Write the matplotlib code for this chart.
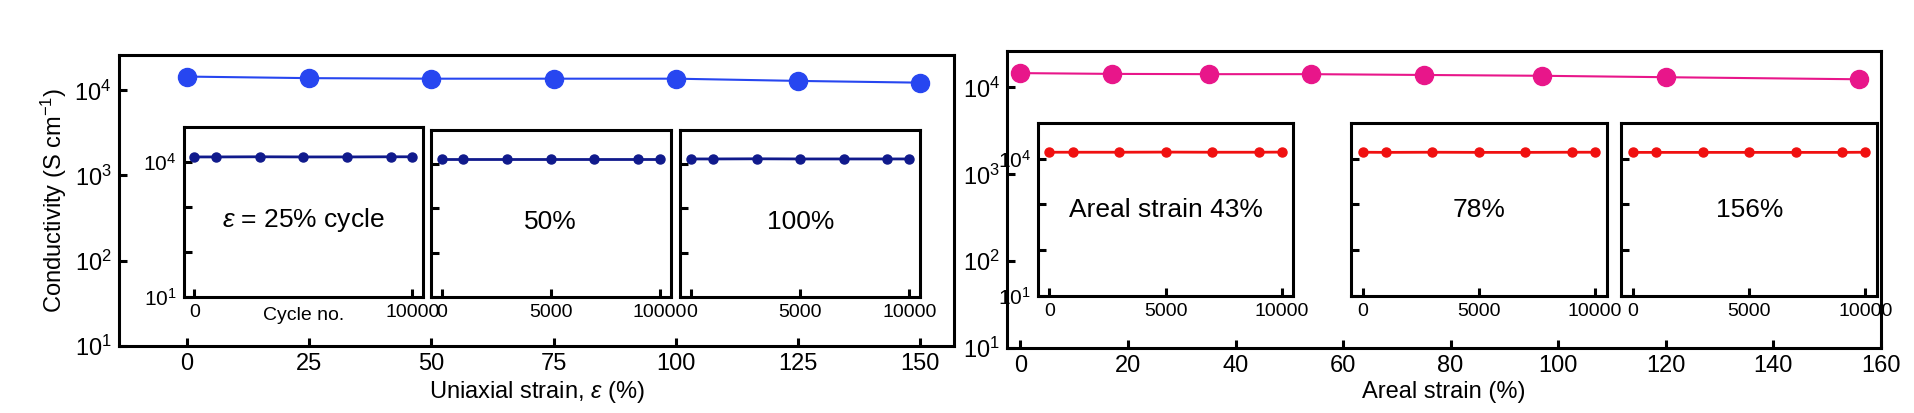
import matplotlib.pyplot as plt
from matplotlib.ticker import FixedLocator

font = "Liberation Sans"

# main data
uni_strain = [0, 25, 50, 75, 100, 125, 150]
uni_cond = [14500, 13900, 13700, 13700, 13700, 12900, 12300]
areal_strain = [0, 17, 35, 54, 75, 97, 120, 156]
areal_cond = [14600, 14300, 14200, 14200, 13900, 13600, 13100, 12400]

# inset data (cycling)
cycles = [0, 1000, 3000, 5000, 7000, 9000, 10000]
uni_cycle_cond = {
    "$\\mathit{\\varepsilon}$ = 25% cycle": [13000, 13000, 13100, 13000, 13000, 13100, 13100],
    "50%": [12800, 12800, 12800, 12800, 12800, 12800, 12800],
    "100%": [13000, 13000, 13100, 13000, 13000, 13000, 13000],
}
areal_cycle_cond = {
    "Areal strain 43%": [14000, 14000, 14000, 14100, 14000, 14000, 14100],
    "78%": [14000, 13900, 14000, 13900, 13900, 14000, 14000],
    "156%": [13900, 13900, 13900, 13900, 13900, 13900, 14000],
}

plt.rcParams["font.family"] = font
plt.rcParams["mathtext.fontset"] = "custom"
plt.rcParams["mathtext.rm"] = font
plt.rcParams["mathtext.it"] = font + ":italic"

fig = plt.figure(figsize=(19.15, 4.13), dpi=100)
# layout measured on a 1565-wide view of the reference
W, H = 1565, 338


def box(x0, y0, x1, y1):
    return [x0 / W, 1 - y1 / H, (x1 - x0) / W, (y1 - y0) / H]


def style_log(ax, lw, size):
    ax.set_yscale("log")
    ax.yaxis.set_major_locator(FixedLocator([10, 100, 1000, 10000]))
    ax.yaxis.set_minor_locator(FixedLocator([]))
    for s in ax.spines.values():
        s.set_linewidth(lw)
    ax.tick_params(direction="in", width=lw, length=6, labelsize=size, pad=5)


def main_panel(rect, x, y, color, xlim, xticks, xlabel, ylabel):
    ax = fig.add_axes(rect)
    ax.plot(x, y, "-o", color=color, ms=13, lw=1.5)
    ax.set_xlim(*xlim)
    ax.set_ylim(10, 2.6e4)
    ax.set_xticks(xticks)
    style_log(ax, 2.2, 17)
    ax.set_yticklabels(["$10^{1}$", "$10^{2}$", "$10^{3}$", "$10^{4}$"])
    ax.set_xlabel(xlabel, fontsize=17, labelpad=3)
    if ylabel:
        ax.set_ylabel(ylabel, fontsize=17)
    return ax


def inset(rect, y, color, text, text_y, first=False, uni=False):
    ax = fig.add_axes(rect)
    ax.plot(cycles, y, "-o", color=color, ms=6.5, lw=2)
    ax.set_xlim(-500, 10500)
    ax.set_ylim(10, 6e4)
    style_log(ax, 2.2, 15)
    ax.tick_params(axis="x", labelsize=14)
    if first:
        ax.set_yticklabels(["$10^{1}$", "", "", "$10^{4}$"])
    else:
        ax.set_yticklabels([])
    if uni and first:
        ax.set_xticks([0, 10000])
        ax.text(0.5, -0.06, "Cycle no.", transform=ax.transAxes, ha="center",
                va="top", fontsize=14)
    else:
        ax.set_xticks([0, 5000, 10000])
    ax.text(0.5, text_y, text, transform=ax.transAxes, ha="center", va="center",
            fontsize=19)
    return ax


main_panel(box(97, 45, 780, 283), uni_strain, uni_cond, "#2746f0", (-14, 157),
           [0, 25, 50, 75, 100, 125, 150], "Uniaxial strain, $\\mathit{\\varepsilon}$ (%)",
           "Conductivity (S cm$^{-1}$)")
main_panel(box(823, 42, 1537, 285), areal_strain, areal_cond, "#e8168a", (-2.5, 160),
           list(range(0, 161, 20)), "Areal strain (%)", None)

uni_boxes = [(150, 104, 346, 243), (352, 106, 548, 243), (556, 106, 752, 243)]
for i, (b, (label, vals)) in enumerate(zip(uni_boxes, uni_cycle_cond.items())):
    inset(box(*b), vals, "#101a8c", label, 0.45, first=(i == 0), uni=True)

areal_boxes = [(848, 101, 1057, 242), (1104, 101, 1313, 242), (1325, 101, 1534, 242)]
for i, (b, (label, vals)) in enumerate(zip(areal_boxes, areal_cycle_cond.items())):
    inset(box(*b), vals, "#f01010", label, 0.5, first=(i == 0))

fig.savefig("out.png", dpi=100)
